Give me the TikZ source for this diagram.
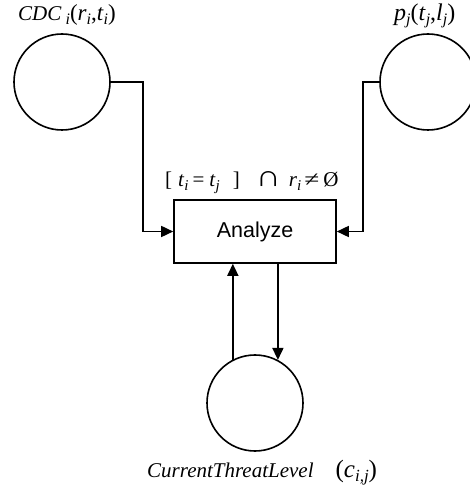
\documentclass[tikz,border=0pt]{standalone}
\usepackage{fontspec}
\setmainfont{Liberation Serif}
\newfontfamily\arialfont{Liberation Sans}
\usetikzlibrary{arrows.meta}
% italic lowered index, size given as optional argument
\newcommand\lo[2][15]{\raisebox{-0.33ex}{\fontsize{#1}{#1}\selectfont\itshape #2}}
\newcommand\va[1]{\textit{#1}}
\newcommand\fs[1]{\fontsize{#1}{#1}\selectfont}
\begin{document}
\begin{tikzpicture}[x=1pt,y=1pt,
  place/.style={circle,draw,line width=1.6pt,minimum size=96pt,inner sep=0pt},
  trans/.style={rectangle,draw,line width=1.6pt,minimum width=162pt,minimum height=63pt,inner sep=0pt,font=\arialfont\fontsize{21.5}{24}\selectfont},
  arc/.style={line width=1.6pt,-{Triangle[length=12pt,width=11pt]}},
  lbl/.style={inner sep=0pt,font=\fontsize{21}{24}\selectfont}]
\useasboundingbox (0,0) rectangle (470,488);
% places and the transition
\node[place] (cdc) at (62,406) {};
\node[place] (pj) at (428,406) {};
\node[trans] (an) at (255,256.5) {Analyze};
\node[place] (ctl) at (255,85) {};
% place labels and guard
\node[lbl,anchor=base west] (cdcl) at (18,467)
  {{\fs{21}\va{CDC}}\hspace{4pt}\lo[16]{i}{\fs{23}(\va{r}\lo[16]{i},\va{t}\lo[16]{i})}};
\node[lbl,anchor=base west] (pjl) at (394,467)
  {\fs{24}\va{p}\lo[16]{j}(\va{t}\lo[16]{j},\va{l}\lo[16]{j})};
\node[lbl,anchor=base west] (ctll) at (147,10)
  {\va{CurrentThreatLevel}\hspace{22pt}{\fs{25}(\va{c}\lo[17]{i,j})}};
\node[lbl,anchor=base west] (guard) at (165,301)
  {[\hspace{6pt}\va{t}\lo{i}\hspace{4pt}=\hspace{5pt}\va{t}\lo{j}\hspace{13pt}]\hspace{16pt}\resizebox{25pt}{15pt}{∩}\hspace{8pt}\va{r}\lo{i}\hspace{3pt}\scalebox{1.3}[1]{≠}\hspace{4pt}Ø};
% arcs
\coordinate (lb) at (143,0);
\coordinate (rb) at (363,0);
\draw[arc] (cdc.east) -| (lb |- an.west) -- (an.west);
\draw[arc] (pj.west) -| (rb |- an.east) -- (an.east);
\draw[arc] (ctl.117.3) -- (ctl.117.3 |- an.south);
\draw[arc] (an.south -| ctl.62.7) -- (ctl.62.7);
\end{tikzpicture}
\end{document}
